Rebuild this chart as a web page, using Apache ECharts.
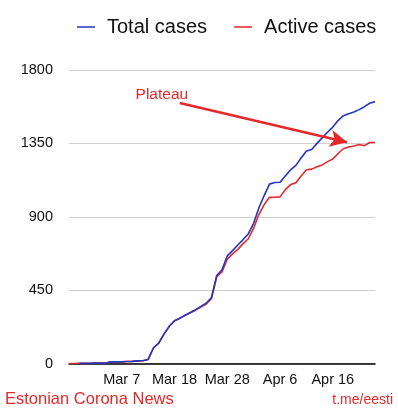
<!DOCTYPE html>
<html>
<head>
<meta charset="utf-8">
<script src="https://cdn.jsdelivr.net/npm/echarts@6/dist/echarts.min.js"></script>
<style>html,body{margin:0;padding:0;background:#fff;}#c{width:398px;height:409px;}</style>
</head>
<body>
<div id="c"></div>
<script>
// Day index 0..58 (about Feb 26 .. Apr 25)
var totalCases = [null,null,1,1,1,2,2,3,10,10,10,12,13,16,17,25,95,125,180,228,262,278,296,313,330,350,370,405,540,575,660,692,727,760,795,860,955,1030,1100,1110,1112,1150,1188,1215,1260,1303,1312,1350,1384,1418,1450,1490,1520,1532,1542,1557,1575,1596,1606];
var activeCases = [0,0,1,1,1,2,2,3,10,10,10,12,13,16,17,25,95,125,180,228,262,277,295,311,327,346,365,398,532,562,640,672,700,735,765,830,915,975,1019,1020,1022,1066,1097,1108,1150,1188,1192,1206,1218,1238,1254,1288,1317,1328,1334,1343,1336,1355,1355];
var tickValues = [10,20,30,40,50];
var tickLabels = ['Mar 7','Mar 18','Mar 28','Apr 6','Apr 16'];
var yTicks = [0,450,900,1350,1800];
var arrowFrom = [21.0, 1598];
var arrowTo = [52.7, 1357];
var noteAt = [17.6, 1650];

var FONT = '"Liberation Sans", Arial, Helvetica, sans-serif';
var RED = '#e3292b';
var BLUE = '#2236c0';

var chart = echarts.init(document.getElementById('c'));
chart.setOption({
  animation: false,
  textStyle: {fontFamily: FONT},
  title: [
    {text: 'Estonian Corona News', left: 5, top: 391, padding: 0,
     textStyle: {color: RED, fontSize: 16.5, fontWeight: 'normal', fontFamily: FONT}},
    {text: 't.me/eesti', right: 5, top: 393, padding: 0,
     textStyle: {color: RED, fontSize: 14, fontWeight: 'normal', fontFamily: FONT}}
  ],
  legend: {
    left: 77, top: 17, padding: 0,
    icon: 'rect', itemWidth: 18, itemHeight: 1.5, itemGap: 27,
    textStyle: {fontSize: 20, color: '#111', fontFamily: FONT, padding: [0,0,0,7]},
    data: ['Total cases', 'Active cases']
  },
  grid: {left: 69, right: 23, top: 70, bottom: 45.5},
  xAxis: {
    type: 'value', min: 0, max: 58, interval: 10,
    axisLine: {show: true, lineStyle: {color: '#000', width: 1.5}},
    axisTick: {show: false},
    splitLine: {show: false},
    axisLabel: {
      showMaxLabel: false, margin: 9, fontSize: 14.5, color: '#111', fontFamily: FONT,
      formatter: function (v) { var k = tickValues.indexOf(v); return k >= 0 ? tickLabels[k] : ''; }
    }
  },
  yAxis: {
    type: 'value', min: yTicks[0], max: yTicks[yTicks.length-1], interval: yTicks[1]-yTicks[0],
    axisLine: {show: false}, axisTick: {show: false},
    splitLine: {lineStyle: {color: '#cfcfcf', width: 1}},
    axisLabel: {fontSize: 14.5, color: '#111', margin: 16, fontFamily: FONT,
      formatter: function (v) { return String(v); }}
  },
  series: [
    {
      name: 'Total cases', type: 'line', symbol: 'none', z: 4,
      lineStyle: {color: BLUE, width: 1.6}, itemStyle: {color: BLUE},
      data: totalCases.map(function (v, i) { return [i, v]; })
    },
    {
      name: 'Active cases', type: 'line', symbol: 'none', z: 3,
      lineStyle: {color: RED, width: 1.6}, itemStyle: {color: RED},
      data: activeCases.map(function (v, i) { return [i, v]; }),
      markLine: {
        silent: true, symbol: ['none', 'arrow'], symbolSize: [13, 17],
        label: {show: false},
        lineStyle: {color: RED, width: 2.6, type: 'solid'},
        data: [[{coord: arrowFrom}, {coord: arrowTo}]]
      },
      markPoint: {
        silent: true, symbol: 'circle', symbolSize: 0,
        label: {show: true, position: 'inside', formatter: 'Plateau', color: RED, fontSize: 15.5, fontFamily: FONT},
        data: [{coord: noteAt}]
      }
    }
  ]
});
</script>
</body>
</html>
